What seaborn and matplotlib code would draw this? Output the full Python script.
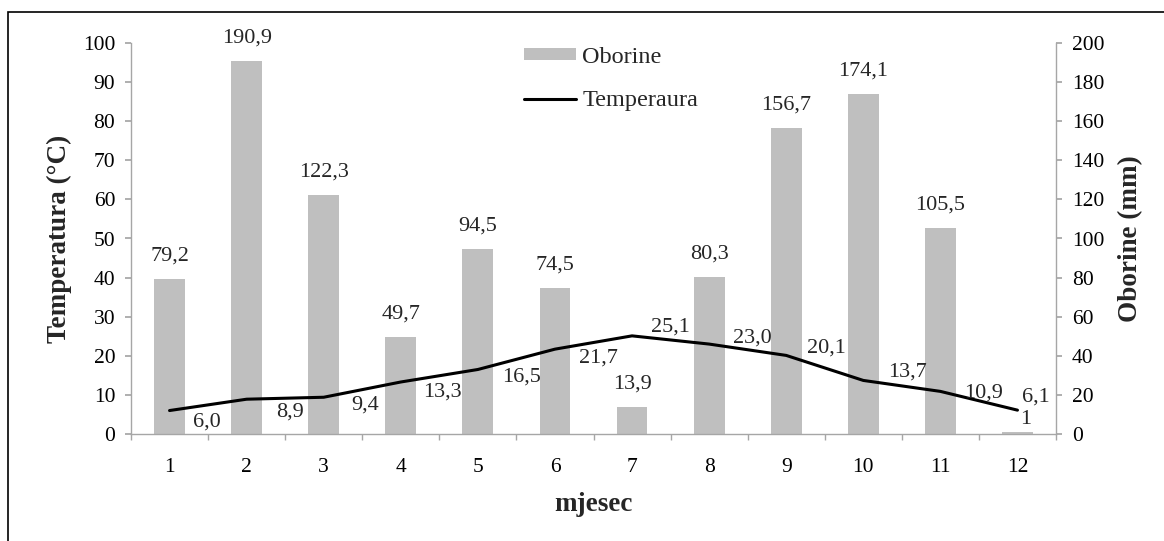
import numpy as np
import pandas as pd
import seaborn as sns
import matplotlib.pyplot as plt
from matplotlib.patches import Patch, Rectangle
from matplotlib.lines import Line2D

mjeseci = [1, 2, 3, 4, 5, 6, 7, 8, 9, 10, 11, 12]
oborine = [79.2, 190.9, 122.3, 49.7, 94.5, 74.5, 13.9, 80.3, 156.7, 174.1, 105.5, 1]
temperatura = [6.0, 8.9, 9.4, 13.3, 16.5, 21.7, 25.1, 23.0, 20.1, 13.7, 10.9, 6.1]

# pomak oznaka u pikselima (desno, dolje)
pomak_obor = [(0, -23)] * 11 + [(8, -13)]
pomak_temp = [(37, 12), (43, 13), (41, 8), (42, 10), (44, 8), (43, 9),
              (38, -9), (43, -6), (40, -7), (44, -8), (43, 2), (18, -13)]


def zarez(v, fmt="%g"):
    return (fmt % v).replace(".", ",")


def graficar(df):
    sns.set_theme(style="white")
    plt.rcParams["font.family"] = ["Liberation Serif", "DejaVu Serif"]
    siva = "#BFBFBF"
    osi = "#A6A6A6"
    px = 0.72  # piksel -> točka pri dpi=100

    fig = plt.figure(figsize=(11.64, 5.41), dpi=100)
    ax = fig.add_axes([131 / 1164, 107 / 541, 925 / 1164, 391 / 541])
    ax2 = ax.twinx()

    sns.barplot(data=df, x="mjesec", y="oborine", ax=ax2, color=siva,
                width=0.4, native_scale=True, saturation=1, errorbar=None,
                edgecolor="none")
    sns.lineplot(data=df, x="mjesec", y="temperatura", ax=ax,
                 color="black", linewidth=2.2)

    ax.set_zorder(ax2.get_zorder() + 1)
    ax.patch.set_visible(False)

    ax.set_xlim(0.5, 12.5)
    ax.set_ylim(0, 100)
    ax2.set_ylim(0, 200)

    ax.set_xticks(mjeseci)
    ax.set_xticklabels([str(m) for m in mjeseci])
    ax.set_xticks(np.arange(0.5, 13, 1), minor=True)
    ax.set_yticks(range(0, 101, 10))
    ax2.set_yticks(range(0, 201, 20))

    ax.tick_params(axis="x", which="major", length=0, pad=17, labelsize=15.5,
                   colors="black")
    ax.tick_params(axis="x", which="minor", bottom=True, length=4.3,
                   color=osi, direction="out")
    ax.tick_params(axis="y", left=True, length=4.3, color=osi,
                   direction="out", pad=7, labelsize=15.5, labelcolor="black")
    ax2.tick_params(axis="y", right=True, length=4.3, color=osi,
                    direction="out", pad=7, labelsize=15.5, labelcolor="black")
    ax2.xaxis.set_visible(False)

    for s in ["top", "right"]:
        ax.spines[s].set_visible(False)
    for s in ["top", "left", "bottom"]:
        ax2.spines[s].set_visible(False)
    for s in ["left", "bottom"]:
        ax.spines[s].set_color(osi)
        ax.spines[s].set_linewidth(1)
    ax2.spines["right"].set_color(osi)
    ax2.spines["right"].set_linewidth(1)

    ax.set_xlabel("mjesec", fontsize=19.5, fontweight="bold", va="center")
    ax.set_ylabel("Temperatura (°C)", fontsize=19.5, fontweight="bold",
                  va="center")
    ax2.set_ylabel("Oborine (mm)", fontsize=19.5, fontweight="bold",
                   va="center")
    ax.xaxis.set_label_coords(0.5, -0.18)
    ax.yaxis.set_label_coords(-0.077, 0.5)
    ax2.yaxis.set_label_coords(1.081, 0.5)

    for m, v, (dx, dy) in zip(mjeseci, oborine, pomak_obor):
        ax2.annotate(zarez(v), (m, v), xytext=(dx * px, -dy * px),
                     textcoords="offset points", ha="center", va="center",
                     fontsize=16)
    for m, v, (dx, dy) in zip(mjeseci, temperatura, pomak_temp):
        ax.annotate(zarez(v, "%.1f"), (m, v), xytext=(dx * px, -dy * px),
                    textcoords="offset points", ha="center", va="center",
                    fontsize=16)

    rucke = [Patch(facecolor=siva, edgecolor="none"),
             Line2D([], [], color="black", linewidth=2.2)]
    ax.legend(rucke, ["Oborine", "Temperaura"], loc="upper left",
              bbox_to_anchor=(0.425, 0.99), frameon=False, fontsize=17.5,
              handlelength=2.15, handleheight=0.4, handletextpad=0.25,
              labelspacing=0.92, borderpad=0, borderaxespad=0)

    fig.add_artist(Rectangle((8 / 1164, -0.05), 1.1, 1 - 12 / 541 + 0.05,
                             transform=fig.transFigure, fill=False,
                             edgecolor="black", linewidth=1.2))
    fig.savefig("out.png", dpi=100)


if __name__ == "__main__":
    df = pd.DataFrame({"mjesec": mjeseci, "oborine": oborine,
                       "temperatura": temperatura})
    graficar(df)
